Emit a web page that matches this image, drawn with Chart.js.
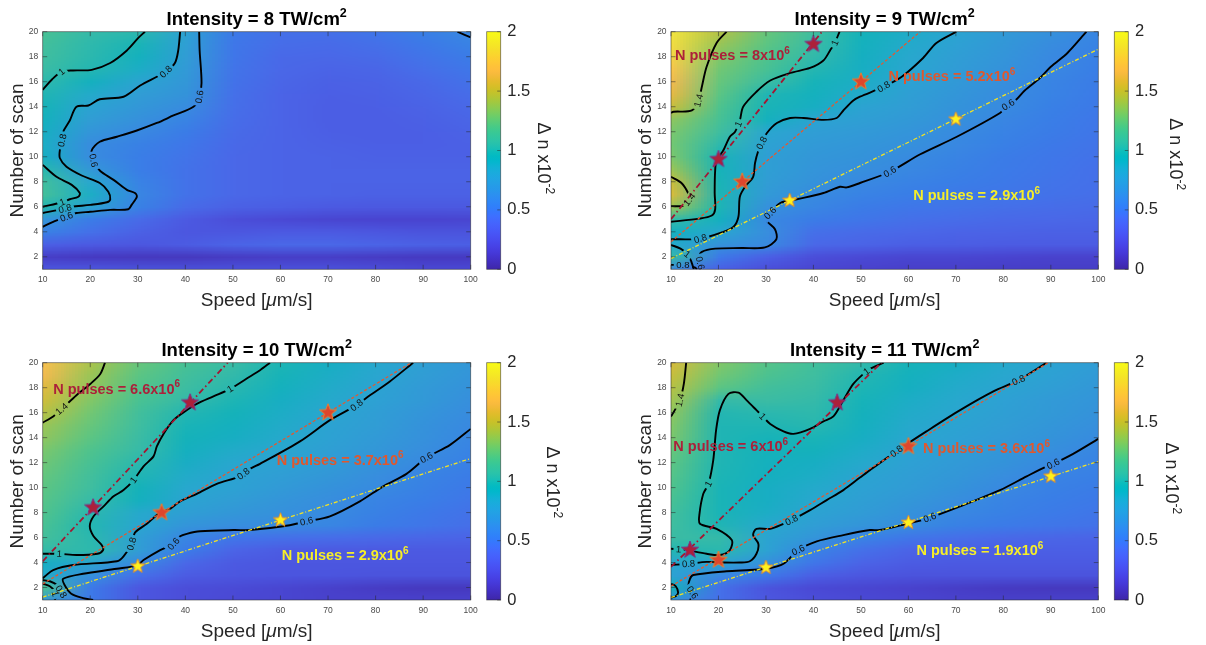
<!DOCTYPE html>
<html><head><meta charset="utf-8"><title>Delta n maps</title>
<script src="https://cdn.jsdelivr.net/npm/chart.js@4.4.1/dist/chart.umd.min.js"></script>
<style>
html,body{margin:0;padding:0;background:#fff;}
#fig{position:relative;width:1206px;height:645px;overflow:hidden;background:#fff;}
#fig canvas{position:absolute;left:0;top:0;}
</style></head>
<body><div id="fig">
<canvas id="p8" width="1206" height="645"></canvas>
<canvas id="p9" width="1206" height="645"></canvas>
<canvas id="p10" width="1206" height="645"></canvas>
<canvas id="p11" width="1206" height="645"></canvas>
</div>
<script>
// ================= DATA =================
const speedTicks = [10,20,30,40,50,60,70,80,90,100];
const scanTicks = [2,4,6,8,10,12,14,16,18,20];
const cbTicks = [0,0.5,1,1.5,2];
const gridSpeed = [10,20,30,40,50,60,70,80,90,100];
const gridScan = [20,19,18,17,16,15,14,13,12,11,10,9,8,7,6,5,4,3,2,1];

const dn8 = [
[1.15,1.05,1.02,0.78,0.5,0.45,0.45,0.48,0.54,0.6],
[1.12,1.03,0.97,0.76,0.49,0.43,0.42,0.45,0.5,0.56],
[1.1,1.02,0.93,0.74,0.48,0.41,0.4,0.42,0.47,0.52],
[1.07,1.0,0.88,0.72,0.47,0.4,0.38,0.39,0.44,0.49],
[1.03,0.92,0.8,0.7,0.46,0.39,0.36,0.37,0.41,0.46],
[0.99,0.85,0.74,0.67,0.45,0.38,0.35,0.36,0.39,0.43],
[0.96,0.79,0.7,0.62,0.44,0.38,0.34,0.35,0.37,0.41],
[0.93,0.74,0.65,0.57,0.43,0.38,0.34,0.34,0.36,0.39],
[0.9,0.68,0.6,0.52,0.42,0.38,0.35,0.34,0.35,0.37],
[0.88,0.62,0.55,0.49,0.41,0.38,0.36,0.35,0.35,0.36],
[0.9,0.62,0.53,0.47,0.4,0.38,0.37,0.36,0.36,0.36],
[1.01,0.7,0.53,0.46,0.4,0.38,0.37,0.37,0.37,0.37],
[1.1,0.82,0.56,0.46,0.4,0.38,0.37,0.37,0.37,0.37],
[1.12,0.88,0.58,0.46,0.4,0.38,0.37,0.36,0.36,0.36],
[1.0,0.78,0.55,0.42,0.36,0.34,0.32,0.31,0.31,0.31],
[0.68,0.52,0.42,0.32,0.25,0.22,0.2,0.19,0.19,0.2],
[0.55,0.45,0.36,0.3,0.3,0.32,0.32,0.3,0.28,0.28],
[0.35,0.32,0.3,0.33,0.38,0.4,0.4,0.38,0.36,0.35],
[0.15,0.13,0.12,0.12,0.14,0.15,0.15,0.14,0.13,0.13],
[0.3,0.3,0.28,0.27,0.27,0.27,0.27,0.25,0.22,0.22]];

const dn9 = [
[1.9,1.45,1.25,1.1,0.95,0.87,0.8,0.72,0.65,0.58],
[1.85,1.38,1.22,1.07,0.93,0.85,0.77,0.7,0.62,0.56],
[1.8,1.32,1.18,1.04,0.91,0.83,0.75,0.68,0.6,0.54],
[1.72,1.28,1.15,1.0,0.9,0.81,0.73,0.66,0.59,0.53],
[1.65,1.25,1.08,0.96,0.88,0.78,0.71,0.64,0.57,0.52],
[1.6,1.22,0.99,0.93,0.85,0.76,0.69,0.62,0.56,0.51],
[1.5,1.18,0.97,0.9,0.79,0.74,0.67,0.61,0.54,0.5],
[1.35,1.15,0.93,0.8,0.76,0.71,0.65,0.58,0.53,0.49],
[1.3,1.1,0.81,0.75,0.72,0.68,0.61,0.56,0.52,0.48],
[1.28,1.03,0.78,0.72,0.69,0.65,0.59,0.54,0.5,0.47],
[1.3,0.97,0.76,0.7,0.67,0.61,0.57,0.52,0.49,0.46],
[1.38,0.96,0.76,0.68,0.64,0.59,0.55,0.51,0.48,0.45],
[1.5,0.97,0.74,0.66,0.6,0.56,0.53,0.5,0.47,0.45],
[1.55,0.98,0.72,0.61,0.56,0.53,0.5,0.48,0.46,0.44],
[1.38,0.98,0.65,0.58,0.52,0.49,0.47,0.45,0.43,0.42],
[1.05,0.92,0.6,0.52,0.48,0.45,0.43,0.41,0.4,0.39],
[0.92,0.82,0.63,0.45,0.42,0.4,0.38,0.37,0.36,0.36],
[0.85,0.66,0.6,0.4,0.38,0.35,0.34,0.33,0.33,0.33],
[1.05,0.5,0.35,0.25,0.22,0.2,0.2,0.19,0.18,0.18],
[0.6,0.35,0.25,0.2,0.18,0.16,0.16,0.15,0.15,0.15]];

const dn10 = [
[1.7,1.42,1.25,1.15,1.07,0.98,0.9,0.83,0.76,0.7],
[1.65,1.38,1.22,1.12,1.04,0.96,0.88,0.81,0.74,0.68],
[1.58,1.36,1.19,1.09,1.01,0.93,0.86,0.79,0.72,0.66],
[1.52,1.32,1.16,1.05,0.98,0.9,0.84,0.77,0.71,0.64],
[1.45,1.28,1.12,1.0,0.95,0.88,0.81,0.75,0.68,0.62],
[1.38,1.25,1.1,0.97,0.92,0.86,0.79,0.74,0.66,0.6],
[1.35,1.22,1.08,0.95,0.9,0.84,0.78,0.72,0.65,0.58],
[1.3,1.18,1.06,0.92,0.86,0.81,0.76,0.7,0.63,0.56],
[1.27,1.15,1.02,0.89,0.82,0.78,0.73,0.67,0.6,0.54],
[1.24,1.12,0.99,0.86,0.79,0.75,0.7,0.63,0.57,0.52],
[1.22,1.1,0.95,0.83,0.78,0.72,0.66,0.61,0.55,0.5],
[1.2,1.06,0.92,0.8,0.74,0.68,0.63,0.57,0.53,0.48],
[1.18,1.02,0.84,0.76,0.7,0.65,0.61,0.55,0.5,0.46],
[1.15,1.0,0.81,0.68,0.63,0.61,0.58,0.52,0.48,0.44],
[1.12,1.02,0.76,0.58,0.48,0.45,0.43,0.41,0.39,0.38],
[1.05,1.03,0.74,0.52,0.38,0.33,0.32,0.32,0.32,0.32],
[0.9,0.8,0.6,0.4,0.32,0.3,0.3,0.3,0.3,0.3],
[0.85,0.65,0.45,0.33,0.3,0.29,0.29,0.28,0.28,0.28],
[1.15,0.5,0.3,0.25,0.23,0.2,0.17,0.14,0.12,0.12],
[0.7,0.5,0.3,0.25,0.22,0.2,0.18,0.18,0.18,0.18]];

const dn11 = [
[1.55,1.32,1.2,1.12,1.04,0.96,0.9,0.84,0.79,0.74],
[1.5,1.28,1.17,1.1,1.0,0.93,0.87,0.82,0.77,0.72],
[1.45,1.22,1.12,1.08,0.98,0.91,0.85,0.8,0.75,0.7],
[1.4,1.05,1.08,1.05,0.96,0.88,0.83,0.77,0.72,0.68],
[1.35,1.0,1.02,1.03,0.94,0.86,0.81,0.76,0.71,0.66],
[1.32,0.99,0.99,1.01,0.92,0.84,0.79,0.74,0.69,0.64],
[1.3,0.99,0.96,0.97,0.9,0.82,0.77,0.72,0.67,0.61],
[1.25,0.99,0.95,0.94,0.87,0.79,0.74,0.69,0.64,0.58],
[1.22,0.99,0.93,0.9,0.84,0.77,0.72,0.67,0.6,0.56],
[1.2,0.98,0.92,0.88,0.8,0.75,0.7,0.63,0.57,0.54],
[1.18,0.97,0.9,0.85,0.78,0.73,0.67,0.6,0.55,0.52],
[1.15,0.97,0.9,0.82,0.76,0.7,0.63,0.57,0.53,0.5],
[1.12,0.97,0.88,0.79,0.73,0.66,0.59,0.55,0.51,0.48],
[1.1,0.99,0.83,0.75,0.68,0.62,0.55,0.51,0.48,0.46],
[1.08,1.05,0.8,0.68,0.56,0.48,0.44,0.41,0.39,0.38],
[1.0,1.02,0.78,0.56,0.45,0.38,0.36,0.35,0.35,0.35],
[0.82,0.8,0.65,0.48,0.38,0.33,0.32,0.32,0.32,0.32],
[0.78,0.6,0.5,0.35,0.3,0.28,0.28,0.28,0.28,0.28],
[0.95,0.45,0.28,0.22,0.2,0.18,0.15,0.13,0.12,0.12],
[0.65,0.45,0.3,0.25,0.22,0.2,0.18,0.17,0.17,0.17]];

// ---- contour lines [speed, scan] and their label anchors ----
// I = 8
const I8_c1a = [[10,15.35],[12,16.2],[14,16.8],[16.4,16.9],[20.3,16.95],[24.2,17.5],[27.7,18.5],[30.1,19.5],[31.5,20]];
const I8_c1a_lab = [[14,16.8]];
const I8_c1b = [[10,9.35],[12.9,8.4],[16.1,7.75],[17.8,7.1],[17.5,6.8],[15.7,6.6],[14.1,6.36],[10,6.0]];
const I8_c1b_lab = [[14.1,6.4]];
const I8_c08 = [[38.9,20],[38.5,18.5],[37.8,17.5],[35.9,16.8],[34,16.4],[30.5,15.7],[27,14.8],[22,14.6],[19.6,14.1],[17.1,14],[15.7,12.9],[14.3,12],[14.1,11.35],[13.6,10.5],[13.6,9.9],[15,9.2],[18.2,8.5],[22,7.9],[23.8,7.2],[24.2,6.6],[23.5,6.36],[20,6.15],[16.1,6],[14.7,5.85],[10,5.5]];
const I8_c08_lab = [[35.9,16.8],[14.1,11.3],[14.7,5.85]];
const I8_c06 = [[42.9,20],[43,18.5],[43.4,15.9],[42.9,14.7],[41.7,14],[37.5,13.3],[34,12.7],[29.8,12.1],[25.6,11.6],[22,11.2],[20.3,10.5],[20.7,9.7],[22,8.9],[24.9,8.15],[27.7,7.35],[29.4,7.1],[29.8,6.8],[28.7,6.15],[28,5.8],[24.2,5.75],[20,5.6],[17.1,5.5],[15,5.2],[12.2,4.8],[10,4.4]];
const I8_c06_lab = [[42.9,14.8],[20.7,9.7],[15,5.2]];
const I8_c06b = [[97.2,20],[100,19.55]];

// I = 9
const I9_c14a = [[21.7,20],[19.6,19.1],[17.5,17.2],[16.5,15.6],[15.8,14.5],[14.4,13.7],[10.5,13.6],[10,13.5]];
const I9_c14a_lab = [[15.8,14.5]];
const I9_c14b = [[10,8.4],[12.2,7.9],[13.6,7.1],[13.9,6.6],[12.9,6.1],[10,6.05]];
const I9_c14b_lab = [[13.8,6.6]];
const I9_c1 = [[45.5,20],[44.5,19.1],[43.5,18.5],[42.1,17.7],[39.3,17.1],[35.1,16.7],[30.9,16.1],[28,15.2],[25.2,14],[24.5,12.9],[23.5,12],[22.4,11.6],[21,10.5],[19.6,9.7],[19.3,8.9],[19.2,7.1],[19.3,5.8],[18.6,5.3],[15.9,5.05],[10,4.8]];
const I9_c1_lab = [[44.5,19.1],[24.3,12.6]];
const I9_c08 = [[70.1,20],[65.9,19.1],[63.1,17.9],[58.6,16.4],[54.8,15.6],[49.8,14.8],[48.4,14.5],[46.3,13.7],[44.9,13.1],[42.1,12.95],[37.9,13.1],[35.1,13.1],[32.3,12.7],[30.2,11.9],[29.1,11.1],[28.4,10.5],[27.7,9.5],[27.3,8.4],[25.6,7.6],[24.5,6.8],[24.2,5.2],[23.2,4.4],[21.1,4.0],[16.2,3.45],[10,3.4]];
const I9_c08_lab = [[54.8,15.6],[29.1,11.1],[16.2,3.45]];
const I9_c06 = [[97.5,20],[93.5,18.3],[90,17.2],[87.7,16.3],[84.5,15.3],[82.8,14.6],[81,14.15],[79.3,13.5],[70.2,11.6],[62.5,10.2],[56.1,8.8],[49.8,7.9],[47,7.55],[45.6,7.6],[42.1,7.1],[36.5,6.6],[33,6.3],[30.9,5.5],[30.2,4.9],[31.9,4.2],[32.2,3.4],[29.8,2.75],[24.9,2.7],[19.3,2.65],[16.5,2.4],[15.9,1.95],[16.2,1.4],[17,1.0]];
const I9_c06_lab = [[81,14.15],[56.1,8.8],[30.9,5.5],[16.1,1.5]];
const I9_c1c = [[10,2.95],[12,2.65],[13.5,2.2],[14.3,1.6],[14.8,1.0]];
const I9_c1c_lab = [[13.4,2.2]];
const I9_c08c = [[10,1.35],[12.5,1.35],[15,1.15],[15.5,1.0]];
const I9_c08c_lab = [[12.5,1.35]];

// I = 10
const I10_c14 = [[10,15.2],[12.2,15.7],[14,16.3],[17.1,17.4],[20,18.3],[22.1,19.1],[23.1,20]];
const I10_c14_lab = [[14,16.3]];
const I10_c1 = [[57.8,20],[55.7,19.4],[53.6,18.9],[49.4,17.9],[45.9,17.3],[42.4,16.7],[39.9,16.1],[37.5,15.4],[35.4,14.3],[34,13.3],[33.3,12.5],[31.2,11.7],[29.1,10.6],[27,9.8],[24.9,9.3],[22.8,8.5],[20.7,7.7],[19.9,6.9],[20.7,6.1],[22.4,5.4],[22.7,5.0],[21.5,4.7],[17.1,4.6],[13.5,4.7],[10,4.7]];
const I10_c1_lab = [[49.4,17.9],[29.1,10.6],[13.5,4.7]];
const I10_c08 = [[87.9,20],[83,18.5],[78.1,17.2],[76,16.6],[70.4,15.4],[64.1,13.7],[55.7,11.9],[53.6,11.5],[51.5,10.9],[46.6,10.3],[42.4,9.5],[38.9,8.9],[36.8,8.3],[34.7,8.0],[31.9,7.1],[29.4,6.4],[28.7,5.5],[27,4.5],[25.6,4.1],[16.4,3.8],[12.2,3.4],[10.5,2.9],[10,2.75]];
const I10_c08_lab = [[76,16.6],[52.2,11.1],[28.7,5.5]];
const I10_c06 = [[100,14.7],[95.6,13.4],[90.7,12.4],[86.5,11.1],[81.6,10.1],[76.7,8.9],[70.4,7.7],[65.5,7.3],[60.6,6.9],[53.6,6.6],[50.1,6.6],[43.1,6.5],[40.3,6.3],[38.9,6.1],[37.5,5.5],[34.7,5.0],[31.2,4.2],[30,3.8],[25.6,3.5],[18.5,3.1],[14.3,2.7],[14.6,2.2],[16,1.5],[18.5,1.15],[20.6,1.0]];
const I10_c06_lab = [[90.7,12.4],[65.5,7.3],[37.5,5.5]];
const I10_c1c = [[10,2.3],[11.5,2.1],[12.5,1.7],[12.8,1.3],[12.5,1.0]];
const I10_c1c_lab = [[12.6,1.5]];
const I10_c08c = [[10,2.6],[11.5,2.5],[13,2.2],[14,1.6],[14.3,1.0]];
const I10_c08c_lab = [[14,1.7]];

// I = 11
const I11_c14 = [[13.2,20],[12.7,18.3],[11.9,17],[10.8,16.2],[10,15.7]];
const I11_c14_lab = [[11.9,17]];
const I11_c1 = [[10,5.1],[12.2,5.05],[13.3,5.0],[17.5,4.7],[20.3,4.6],[22.4,5.0],[22.8,5.8],[19.6,6.7],[16.1,7.1],[16,7.9],[16.8,9.5],[17.9,10.3],[18.9,12.2],[19.5,14.6],[20.3,16.2],[22.1,17.5],[24.2,17.6],[25.9,17],[28,16.2],[29.3,15.7],[30.9,15.1],[33.7,14.5],[35.8,14.3],[39.3,14.7],[42.1,15.3],[44.2,15.7],[46.3,17],[48.4,18.3],[50.5,19.1],[51.9,19.5],[54.8,20]];
const I11_c1_lab = [[11.6,5.07],[17.9,10.3],[29.3,15.7],[51.2,19.3]];
const I11_c08 = [[10,3.8],[13.7,3.9],[17.5,4.05],[21,4.0],[24.5,4.0],[26.6,4.1],[28,4.7],[28.4,5.5],[27.3,6.2],[28,6.7],[30.9,6.7],[33.7,7.1],[35.4,7.4],[39.3,8.2],[42.8,9.0],[46.3,9.8],[49.8,10.8],[51.9,11.4],[58.2,13.1],[63.8,14.5],[70.9,16.2],[77.9,17.7],[83.2,18.6],[89.1,20]];
const I11_c08_lab = [[13.7,3.9],[35.4,7.4],[57.5,12.9],[83.2,18.6]];
const I11_c06 = [[100,13.9],[94.7,12.7],[90.5,11.9],[89.1,11.7],[84.9,10.9],[79.3,9.8],[70.9,8.5],[63.8,7.5],[59.7,7.1],[54,6.6],[51.9,6.6],[46.3,6.2],[40.7,5.7],[36.8,5.0],[33.7,3.9],[30.2,3.5],[26.6,3.4],[21.7,3.3],[14.7,3.0],[14,2.7],[13.7,2.07],[14.7,1.5],[14,1.0]];
const I11_c06_lab = [[90.5,11.9],[64.5,7.6],[36.8,5.0],[14.5,1.6]];
const I11_cc = [[10,2.3],[11,2.1],[11.5,1.6],[11,1.3],[10,1.2]];

// ---- constant-pulse-number lines and stars [speed, scan] ----
const I9_lineHi = [[10,5.0],[41.8,20]];
const I9_lineMid = [[10,3.2],[62.5,20]];
const I9_lineLo = [[10,1.86],[100,18.6]];
const I9_starsHi = [[20,9.8],[40,19]];
const I9_starsMid = [[25,8],[50,16]];
const I9_starsLo = [[35,6.5],[70,13]];
const I9_pulses = ['8','5.2','2.9'];

const I10_lineHi = [[10,4.1],[48.9,20]];
const I10_lineMid = [[10,2.29],[87.5,20]];
const I10_lineLo = [[10,1.23],[100,12.33]];
const I10_starsHi = [[20.6,8.4],[41,16.8]];
const I10_starsMid = [[35,8],[70,16]];
const I10_starsLo = [[30,3.7],[60,7.4]];
const I10_pulses = ['6.6','3.7','2.9'];

const I11_lineHi = [[10,3.65],[54.3,20]];
const I11_lineMid = [[10,2.1],[89.5,20]];
const I11_lineLo = [[10,1.2],[100,12.1]];
const I11_starsHi = [[14,5],[45,16.8]];
const I11_starsMid = [[20,4.2],[60,13.3]];
const I11_starsLo = [[30,3.6],[60,7.2],[90,10.9]];
const I11_pulses = ['6','3.6','1.9'];

// text anchors (data coords: left edge, vertical middle)
const I9_pulseAt = [[10.84,18.14],[55.8,16.46],[61,6.94]];
const I10_pulseAt = [[12.2,17.95],[59.2,12.26],[60.25,4.6]];
const I11_pulseAt = [[10.5,13.33],[63.1,13.15],[61.7,5.0]];

// ================= STYLE =================
const F = '"Liberation Sans", Arial, Helvetica, sans-serif';
const W = 1206, H = 645, YW = 40, XH = 30, CBW = 70;
const PARULA = [[0.2422,0.1504,0.6603],[0.2504,0.1650,0.7076],[0.2578,0.1818,0.7511],[0.2647,0.1978,0.7952],[0.2706,0.2147,0.8364],[0.2751,0.2342,0.8710],[0.2783,0.2559,0.8991],[0.2803,0.2782,0.9221],[0.2813,0.3006,0.9414],[0.2810,0.3228,0.9579],[0.2795,0.3447,0.9717],[0.2760,0.3667,0.9829],[0.2699,0.3892,0.9906],[0.2602,0.4123,0.9952],[0.2440,0.4358,0.9988],[0.2206,0.4603,0.9973],[0.1963,0.4847,0.9892],[0.1834,0.5074,0.9798],[0.1786,0.5289,0.9682],[0.1764,0.5499,0.9520],[0.1687,0.5703,0.9359],[0.1540,0.5902,0.9218],[0.1460,0.6091,0.9079],[0.1380,0.6276,0.8973],[0.1248,0.6459,0.8883],[0.1113,0.6635,0.8763],[0.0952,0.6798,0.8598],[0.0689,0.6948,0.8394],[0.0297,0.7082,0.8163],[0.0036,0.7203,0.7917],[0.0067,0.7312,0.7660],[0.0433,0.7411,0.7394],[0.0964,0.7500,0.7120],[0.1408,0.7584,0.6842],[0.1717,0.7670,0.6554],[0.1938,0.7758,0.6251],[0.2161,0.7843,0.5923],[0.2470,0.7918,0.5567],[0.2906,0.7973,0.5188],[0.3406,0.8008,0.4789],[0.3909,0.8029,0.4354],[0.4456,0.8024,0.3909],[0.5044,0.7993,0.3480],[0.5616,0.7942,0.3045],[0.6174,0.7876,0.2612],[0.6720,0.7793,0.2227],[0.7242,0.7698,0.1910],[0.7738,0.7598,0.1646],[0.8203,0.7498,0.1535],[0.8634,0.7406,0.1596],[0.9035,0.7330,0.1774],[0.9393,0.7288,0.2100],[0.9728,0.7298,0.2394],[0.9956,0.7434,0.2371],[0.9970,0.7659,0.2199],[0.9952,0.7893,0.2028],[0.9892,0.8136,0.1885],[0.9786,0.8386,0.1766],[0.9676,0.8639,0.1643],[0.9610,0.8890,0.1537],[0.9597,0.9135,0.1423],[0.9628,0.9373,0.1265],[0.9691,0.9606,0.1064],[0.9769,0.9839,0.0805]];
function parula(t){
  t = Math.max(0, Math.min(1, t));
  const f = t*63, i = Math.min(62, Math.floor(f)), r = f - i, a = PARULA[i], b = PARULA[i+1];
  return [0,1,2].map(k => 255*(a[k] + (b[k]-a[k])*r));
}
const MAP_DESAT = 0.15;   // the printed map looks a little washed compared with the colour bar
function mapColor(v){
  const c = parula(v/2); const l = 0.3*c[0] + 0.59*c[1] + 0.11*c[2];
  return c.map(x => Math.round(x + (l - x)*MAP_DESAT));
}
const STY = {
  hi:  {line:'rgb(165,22,50)', w:1.8, dash:[6,3,1.5,3], fill:'rgb(172,32,58)', edge:'rgb(125,50,135)', r:9, text:'rgb(172,32,58)'},
  mid: {line:'rgb(228,88,48)', w:1.3, dash:[3,2], fill:'rgb(222,70,45)', edge:'rgb(236,125,45)', r:9, text:'rgb(224,88,46)'},
  lo:  {line:'rgb(242,226,36)', w:1.3, dash:[4,2,1,2], fill:'rgb(255,242,28)', edge:'rgb(228,142,45)', r:7.5, text:'rgb(246,238,40)'}
};
function starImg(R, fill, edge){
  const c = document.createElement('canvas'); const s = Math.ceil(2*R + 4); c.width = s; c.height = s;
  const g = c.getContext('2d'); const cx = s/2, cy = s/2, r = R*0.42;
  g.beginPath();
  for (let k = 0; k < 10; k++){ const rad = k%2 ? r : R; const a = -Math.PI/2 + k*Math.PI/5;
    const px = cx + rad*Math.cos(a), py = cy + rad*Math.sin(a); if (k) g.lineTo(px,py); else g.moveTo(px,py); }
  g.closePath(); g.fillStyle = fill; g.fill(); g.lineWidth = 1; g.strokeStyle = edge; g.stroke();
  return c;
}
const C = (level, pts, labels) => ({level, pts, labels: labels || []});
function pulseSet(lines, stars, texts, anchors){
  const keys = ['hi','mid','lo'];
  return {
    lines: keys.map((k,i) => ({pts: lines[i], sty: STY[k]})),
    stars: keys.map((k,i) => ({pts: stars[i], sty: STY[k]})),
    notes: keys.map((k,i) => ({main: 'N pulses = ' + texts[i] + 'x10', sup: '6', at: anchors[i], color: STY[k].text}))
  };
}
const PANELS = {
  p8: {I:8, dn:dn8, geo:{L:42.7,R:470.7,T:31.7,B:269.3,lab:[544.5,158.3]},
       contours:[C('1',I8_c1a,I8_c1a_lab),C('1',I8_c1b,I8_c1b_lab),C('0.8',I8_c08,I8_c08_lab),C('0.6',I8_c06,I8_c06_lab),C('0.6',I8_c06b)],
       lines:[], stars:[], notes:[]},
  p9: Object.assign({I:9, dn:dn9, geo:{L:671,R:1098.3,T:31.7,B:269.3,lab:[1176.3,154.2]},
       contours:[C('1.4',I9_c14a,I9_c14a_lab),C('1.4',I9_c14b,I9_c14b_lab),C('1',I9_c1,I9_c1_lab),C('0.8',I9_c08,I9_c08_lab),C('0.6',I9_c06,I9_c06_lab),C('1',I9_c1c,I9_c1c_lab),C('0.8',I9_c08c,I9_c08c_lab)]},
       pulseSet([I9_lineHi,I9_lineMid,I9_lineLo],[I9_starsHi,I9_starsMid,I9_starsLo],I9_pulses,I9_pulseAt)),
  p10: Object.assign({I:10, dn:dn10, geo:{L:42.7,R:470.7,T:362.7,B:600,lab:[553.3,482.3]},
       contours:[C('1.4',I10_c14,I10_c14_lab),C('1',I10_c1,I10_c1_lab),C('0.8',I10_c08,I10_c08_lab),C('0.6',I10_c06,I10_c06_lab),C('1',I10_c1c,I10_c1c_lab),C('0.8',I10_c08c,I10_c08c_lab)]},
       pulseSet([I10_lineHi,I10_lineMid,I10_lineLo],[I10_starsHi,I10_starsMid,I10_starsLo],I10_pulses,I10_pulseAt)),
  p11: Object.assign({I:11, dn:dn11, geo:{L:671,R:1098.3,T:362.7,B:600,lab:[1172.2,478.3]},
       contours:[C('1.4',I11_c14,I11_c14_lab),C('1',I11_c1,I11_c1_lab),C('0.8',I11_c08,I11_c08_lab),C('0.6',I11_c06,I11_c06_lab),C('1',I11_cc)]},
       pulseSet([I11_lineHi,I11_lineMid,I11_lineLo],[I11_starsHi,I11_starsMid,I11_starsLo],I11_pulses,I11_pulseAt))
};

function rich(ctx, parts, x, y, align){
  let w = 0;
  parts.forEach(p => { ctx.font = p.f; p.w = ctx.measureText(p.t).width; w += p.w; });
  let cx = align === 'center' ? x - w/2 : x;
  ctx.textAlign = 'left'; ctx.textBaseline = 'alphabetic';
  parts.forEach(p => { ctx.font = p.f; ctx.fillText(p.t, cx, y + (p.dy || 0)); cx += p.w; });
}
function seg(ctx, x1, y1, x2, y2){ ctx.beginPath(); ctx.moveTo(x1,y1); ctx.lineTo(x2,y2); ctx.stroke(); }
const LABFONT = '9.5px ' + F;
const LABS = {};

const figPlugin = {
  id: 'fig',
  beforeDatasetsDraw(chart){
    const P = PANELS[chart.canvas.id], ctx = chart.ctx, a = chart.chartArea, xs = chart.scales.x, ys = chart.scales.y;
    // heat map cells
    const nx = gridSpeed.length, ny = gridScan.length;
    const off = document.createElement('canvas'); off.width = nx; off.height = ny;
    const o = off.getContext('2d'); const im = o.createImageData(nx, ny);
    for (let j = 0; j < ny; j++) for (let i = 0; i < nx; i++){
      const c = mapColor(P.dn[j][i]), k = (j*nx + i)*4;
      im.data[k] = c[0]; im.data[k+1] = c[1]; im.data[k+2] = c[2]; im.data[k+3] = 255;
    }
    o.putImageData(im, 0, 0);
    const hx = (gridSpeed[1]-gridSpeed[0])/2, hy = Math.abs(gridScan[0]-gridScan[1])/2;
    const x0 = xs.getPixelForValue(gridSpeed[0]-hx), x1 = xs.getPixelForValue(gridSpeed[nx-1]+hx);
    const y0 = ys.getPixelForValue(gridScan[0]+hy), y1 = ys.getPixelForValue(gridScan[ny-1]-hy);
    ctx.save(); ctx.beginPath(); ctx.rect(a.left, a.top, a.right-a.left, a.bottom-a.top); ctx.clip();
    ctx.imageSmoothingEnabled = true; ctx.imageSmoothingQuality = 'low';
    ctx.drawImage(off, x0, y0, x1-x0, y1-y0);
    ctx.restore();
    // contour label geometry
    ctx.save(); ctx.font = LABFONT;
    const labs = [];
    chart.data.datasets.forEach((ds, di) => {
      if (!ds.cLabels) { labs[di] = null; return; }
      const px = ds.data.map(p => [xs.getPixelForValue(p.x), ys.getPixelForValue(p.y)]);
      labs[di] = ds.cLabels.map(([lx, ly]) => {
        const X = xs.getPixelForValue(lx), Y = ys.getPixelForValue(ly);
        let best = 1e12, ang = 0, bx = X, by = Y;
        for (let k = 0; k < px.length-1; k++){
          const [xa, ya] = px[k], [xb, yb] = px[k+1]; const dx = xb-xa, dy = yb-ya, L = dx*dx + dy*dy;
          let t = L ? ((X-xa)*dx + (Y-ya)*dy)/L : 0; t = Math.max(0, Math.min(1, t));
          const qx = xa + t*dx, qy = ya + t*dy, d = (qx-X)**2 + (qy-Y)**2;
          if (d < best){ best = d; ang = Math.atan2(dy, dx); bx = qx; by = qy; }
        }
        if (ang > Math.PI/2) ang -= Math.PI; if (ang <= -Math.PI/2) ang += Math.PI;
        return {x: bx, y: by, a: ang, w: ctx.measureText(ds.cLevel).width, t: ds.cLevel};
      });
    });
    LABS[chart.canvas.id] = labs;
    ctx.restore();
  },
  beforeDatasetDraw(chart, args){
    const labs = (LABS[chart.canvas.id] || [])[args.index];
    if (!labs || !labs.length) return;
    const ctx = chart.ctx; ctx.save(); ctx.beginPath(); ctx.rect(0, 0, chart.width, chart.height);
    labs.forEach(L => {
      const hw = L.w/2 + 2.5, hh = 5, c = Math.cos(L.a), s = Math.sin(L.a);
      const pts = [[-hw,-hh],[hw,-hh],[hw,hh],[-hw,hh]].map(([u,v]) => [L.x + u*c - v*s, L.y + u*s + v*c]);
      ctx.moveTo(pts[0][0], pts[0][1]); for (let k = 1; k < 4; k++) ctx.lineTo(pts[k][0], pts[k][1]); ctx.closePath();
    });
    ctx.clip('evenodd');
  },
  afterDatasetDraw(chart, args){
    const labs = (LABS[chart.canvas.id] || [])[args.index];
    if (labs && labs.length) chart.ctx.restore();
  },
  afterDatasetsDraw(chart){
    const P = PANELS[chart.canvas.id], ctx = chart.ctx, a = chart.chartArea, xs = chart.scales.x, ys = chart.scales.y;
    // contour labels
    ctx.save(); ctx.fillStyle = '#111'; ctx.font = LABFONT; ctx.textAlign = 'center'; ctx.textBaseline = 'middle';
    (LABS[chart.canvas.id] || []).forEach(arr => { if (!arr) return; arr.forEach(L => {
      ctx.save(); ctx.translate(L.x, L.y); ctx.rotate(L.a); ctx.fillText(L.t, 0, 0.5); ctx.restore(); }); });
    ctx.restore();
    // N pulses notes
    ctx.save(); ctx.beginPath(); ctx.rect(a.left, a.top, a.right-a.left, a.bottom-a.top); ctx.clip();
    P.notes.forEach(n => {
      ctx.fillStyle = n.color;
      rich(ctx, [{t:n.main, f:'bold 14.5px '+F}, {t:n.sup, f:'bold 10px '+F, dy:-6.5}],
           xs.getPixelForValue(n.at[0]), ys.getPixelForValue(n.at[1]) + 5.2, 'left');
    });
    ctx.restore();
    // box + inward ticks
    ctx.save(); ctx.strokeStyle = 'rgba(40,40,40,0.65)'; ctx.lineWidth = 0.8;
    ctx.strokeRect(a.left, a.top, a.right-a.left, a.bottom-a.top);
    speedTicks.forEach(v => { const p = xs.getPixelForValue(v); seg(ctx, p, a.bottom, p, a.bottom-4.5); seg(ctx, p, a.top, p, a.top+4.5); });
    scanTicks.forEach(v => { const p = ys.getPixelForValue(v); seg(ctx, a.left, p, a.left+4.5, p); seg(ctx, a.right, p, a.right-4.5, p); });
    ctx.restore();
  },
  afterDraw(chart){
    const P = PANELS[chart.canvas.id], G = P.geo, ctx = chart.ctx, a = chart.chartArea, cb = chart.scales.cb;
    // colour bar
    const top = cb.getPixelForValue(2), bot = cb.getPixelForValue(0), bx = a.right + 16, bw = 14;
    const g = ctx.createLinearGradient(0, bot, 0, top);
    PARULA.forEach((c, i) => g.addColorStop(i/63, 'rgb(' + c.map(v => Math.round(v*255)).join(',') + ')'));
    ctx.save(); ctx.fillStyle = g; ctx.fillRect(bx, top, bw, bot-top);
    ctx.strokeStyle = 'rgba(40,40,40,0.65)'; ctx.lineWidth = 0.8; ctx.strokeRect(bx, top, bw, bot-top);
    cbTicks.forEach(v => { const p = cb.getPixelForValue(v); seg(ctx, bx+bw, p, bx+bw-3.5, p); });
    ctx.restore();
    // texts
    ctx.save(); ctx.fillStyle = '#000';
    const mx = (a.left + a.right)/2, my = (a.top + a.bottom)/2;
    rich(ctx, [{t:'Intensity = ' + P.I + ' TW/cm', f:'bold 18.5px '+F}, {t:'2', f:'bold 12.5px '+F, dy:-7.5}], mx, a.top - 7, 'center');
    ctx.fillStyle = '#262626';
    rich(ctx, [{t:'Speed [', f:'19px '+F}, {t:'\u03BC', f:'italic 19px '+F}, {t:'m/s]', f:'19px '+F}], mx, a.bottom + 36.5, 'center');
    ctx.save(); ctx.translate(a.left - 26.7, my); ctx.rotate(-Math.PI/2);
    rich(ctx, [{t:'Number of scan', f:'19px '+F}], 0, 6.8, 'center'); ctx.restore();
    ctx.save(); ctx.translate(G.lab[0], G.lab[1]); ctx.rotate(Math.PI/2);
    rich(ctx, [{t:'\u0394 n x10', f:'18px '+F}, {t:'-2', f:'12px '+F, dy:-7.5}], 0, 6.5, 'center'); ctx.restore();
    ctx.restore();
  }
};

const toXY = pts => pts.map(([x, y]) => ({x, y}));
function noPad(s){ s.paddingTop = 0; s.paddingBottom = 0; }
function build(id){
  const P = PANELS[id], G = P.geo, ds = [];
  P.stars.forEach(s => ds.push({data: toXY(s.pts), showLine:false, pointStyle: starImg(s.sty.r, s.sty.fill, s.sty.edge), pointRadius: s.sty.r, order: 0}));
  P.lines.forEach(l => ds.push({data: toXY(l.pts), showLine:true, borderColor: l.sty.line, borderWidth: l.sty.w, borderDash: l.sty.dash, pointRadius: 0, order: 1}));
  P.contours.forEach(c => ds.push({data: toXY(c.pts), showLine:true, borderColor:'#000', borderWidth:1.9, pointRadius:0, tension:0.3, order:2, cLevel:c.level, cLabels:c.labels}));
  const tickFont = {family: F, size: 8.5};
  new Chart(document.getElementById(id), {
    type: 'scatter',
    data: {datasets: ds},
    options: {
      responsive:false, animation:false, events:[],
      layout: {autoPadding:false, padding: {left: G.L - YW, right: W - G.R - CBW, top: G.T, bottom: H - G.B - XH}},
      plugins: {legend:{display:false}, tooltip:{enabled:false}, title:{display:false}},
      scales: {
        x: {type:'linear', min:10, max:100, position:'bottom', grid:{display:false, drawTicks:false}, border:{display:false},
            afterBuildTicks: s => { s.ticks = speedTicks.map(v => ({value:v})); }, afterFit: s => { s.height = XH; },
            ticks: {autoSkip:false, maxRotation:0, padding:5.6, color:'#4a4a4a', font:tickFont}},
        y: {type:'linear', min:1, max:20, position:'left', grid:{display:false, drawTicks:false}, border:{display:false},
            afterBuildTicks: s => { s.ticks = scanTicks.map(v => ({value:v})); }, afterFit: s => { s.width = YW; noPad(s); },
            ticks: {autoSkip:false, padding:4.4, color:'#4a4a4a', font:tickFont}},
        cb: {type:'linear', axis:'y', min:0, max:2, position:'right', grid:{display:false, drawTicks:false}, border:{display:false},
            afterBuildTicks: s => { s.ticks = cbTicks.map(v => ({value:v})); }, afterFit: s => { s.width = CBW; noPad(s); },
            ticks: {autoSkip:false, padding:36.6, color:'#262626', font:{family:F, size:16.5}, callback: v => String(v)}}
      }
    },
    plugins: [figPlugin]
  });
}
['p8','p9','p10','p11'].forEach(build);
</script>
</body></html>
